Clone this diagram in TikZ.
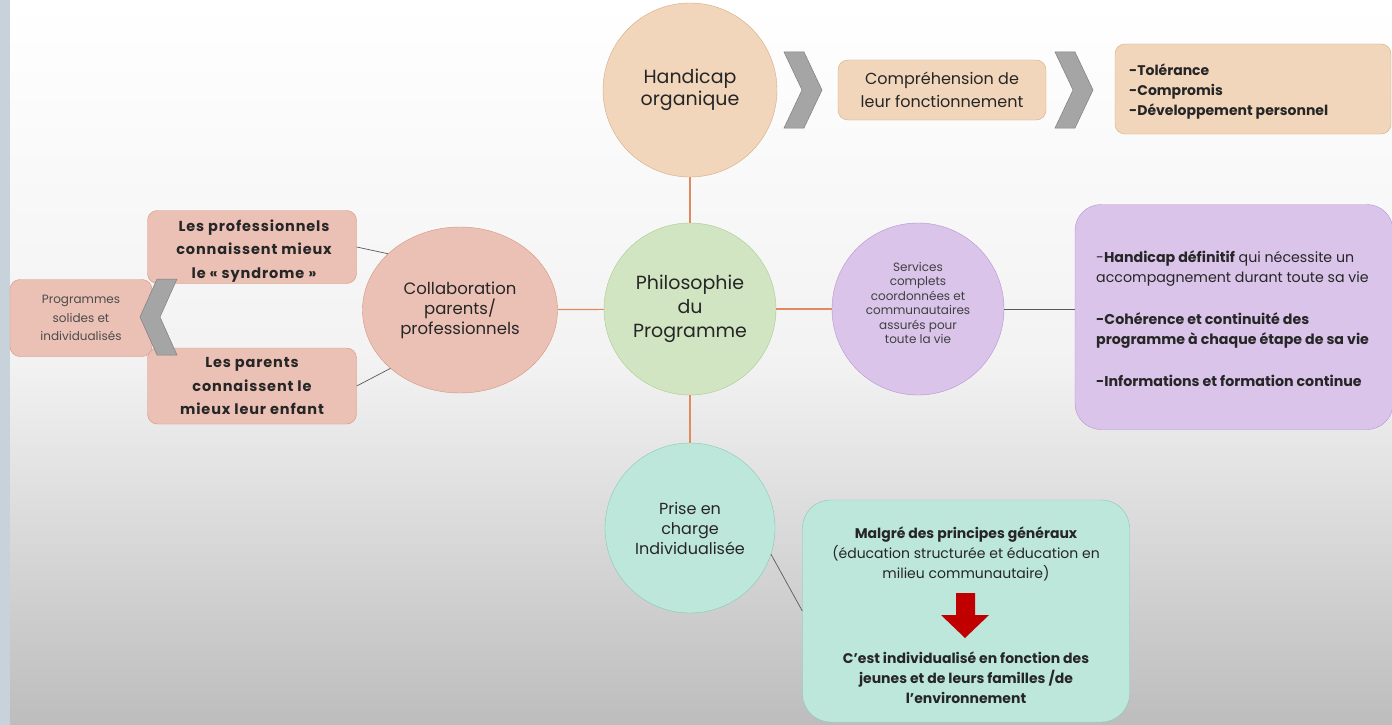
\documentclass[tikz,border=0pt]{standalone}
\usepackage{fontspec}
\setmainfont{Poppins}
\usetikzlibrary{positioning,shapes.geometric}

\definecolor{peach}{HTML}{F1D6BC}
\definecolor{peachline}{HTML}{D8AA80}
\definecolor{salmon}{HTML}{EBC1B5}
\definecolor{salmonline}{HTML}{D5957F}
\definecolor{sage}{HTML}{D1E5C2}
\definecolor{sageline}{HTML}{A8CC92}
\definecolor{lilac}{HTML}{DAC4EA}
\definecolor{lilacline}{HTML}{B693D2}
\definecolor{mint}{HTML}{BEE7DB}
\definecolor{mintline}{HTML}{86C9B5}
\definecolor{linkorange}{HTML}{E08A60}
\definecolor{chev}{HTML}{A5A5A5}
\definecolor{chevline}{HTML}{7F7F7F}
\definecolor{redarrow}{HTML}{C00000}
\definecolor{ink}{HTML}{262626}
\definecolor{strip}{HTML}{C7D2DA}

\newcommand{\fs}[2]{\fontsize{#1}{#2}\selectfont}

\tikzset{
  bubble/.style={circle, draw=#1line, fill=#1, text=ink, align=center, inner sep=0pt},
  card/.style={draw=#1line, fill=#1, rounded corners=10pt, text=ink, align=center, inner sep=0pt},
  link/.style={linkorange, line width=1.2pt},
  thinlink/.style={draw=black!65, line width=0.7pt},
  chevron/.style={fill=chev, draw=chevline, line width=0.5pt}
}

\begin{document}
\begin{tikzpicture}[x=1pt, y=-1pt]
  % fond
  \shade[top color=white, bottom color=black!26, middle color=black!5] (0,0) rectangle (1392,725);
  \useasboundingbox (0,0) rectangle (1392,725);
  \fill[strip] (0,0) rectangle (10,725);

  % Nodos principales
  \node[bubble=sage, minimum size=172pt, font=\fs{19}{24}] (philo) at (690,309) {Philosophie\\du\\Programme};
  \node[bubble=peach, minimum size=174pt, font=\fs{19}{22}] (handicap) at (690,90) {Handicap\\organique};
  \node[ellipse, draw=salmonline, fill=salmon, text=ink, align=center, inner sep=0pt,
        minimum width=195pt, minimum height=166pt, font=\fs{16.5}{20}] (collab) at (460,310) {Collaboration\\parents/\\professionnels};
  \node[bubble=lilac, minimum size=172pt, text=black!75, font=\fs{12}{14.5}] (services) at (918,309)
    {Services\\complets\\coordonnées et\\communautaires\\assurés pour\\toute la vie\\[-2pt]~};
  \node[bubble=mint, minimum size=170pt, font=\fs{16}{20}] (prise) at (690,528) {Prise en\\charge\\Individualisée};

  % Cadres
  \node[card=peach, minimum width=208pt, minimum height=60pt, font=\fs{16}{23}] (compr) at (942,90)
    {Compréhension de\\leur fonctionnement};
  \node[card=peach, minimum width=276pt, minimum height=90pt] (qualites) at (1253,89) {};
  \node[text=ink, align=left, inner sep=0pt, anchor=west, font=\fs{14}{20}\bfseries] (qualitestxt) at (1129,92)
    {-Tolérance\\-Compromis\\-Développement personnel};
  \node[card=lilac, rounded corners=26pt, minimum width=318pt, minimum height=225pt] (besoins) at (1234,317) {};
  \node[text=ink, align=left, anchor=north west, inner sep=0pt, font=\fs{14.2}{20}] (besoinstxt) at (1096,250)
    {-\textbf{Handicap définitif} qui nécessite un\\accompagnement durant toute sa vie\\[22pt]
     \textbf{-Cohérence et continuité des}\\\textbf{programme à chaque étape de sa vie}\\[22pt]
     \textbf{-Informations et formation continue}};
  \node[card=mint, rounded corners=28pt, minimum width=327pt, minimum height=222pt] (indiv) at (966,611) {};
  \node[text=ink, align=center, inner sep=0pt, font=\fs{14}{20}] (principes) at (966,554)
    {\textbf{Malgré des principes généraux}\\(éducation structurée et éducation en\\milieu communautaire)};
  \node[text=ink, align=center, inner sep=0pt, font=\fs{14}{20}\bfseries] (fonction) at (966,678)
    {C'est individualisé en fonction des\\jeunes et de leurs familles /de\\l'environnement};

  \node[card=salmon, minimum width=209pt, minimum height=73pt] (pros) at (252,247) {};
  \node[text=ink, align=center, inner sep=0pt, font=\fs{14.5}{23.5}\bfseries\addfontfeatures{LetterSpace=6}] (prostxt) at (254,251)
    {Les professionnels\\connaissent mieux\\le « syndrome »};
  \node[card=salmon, minimum width=209pt, minimum height=76pt,
        font=\fs{14.5}{23.5}\bfseries\addfontfeatures{LetterSpace=6}] (parents) at (252,386)
    {Les parents\\connaissent le\\mieux leur enfant};
  \node[card=salmon, minimum width=142pt, minimum height=77pt, text=black!70, font=\fs{12}{18.5}] (solides) at (81,318)
    {Programmes\\solides et\\individualisés};

  % Liens
  \draw[link] (handicap) -- (philo);
  \draw[link] (collab) -- (philo);
  \draw[link] (philo) -- (services);
  \draw[link] (philo) -- (prise);
  \draw[thinlink] (pros.east) -- (collab.142);
  \draw[thinlink] (parents.east) -- (collab.220);
  \draw[thinlink] (services.east) -- (services.east -| besoins.west);
  \draw[thinlink] (prise.-18) -- (indiv.west);

  % Chevrons
  \draw[chevron] (784,52) -- (804,52) -- (822,90) -- (804,128) -- (784,128) -- (802,90) -- cycle;
  \draw[chevron] (1055,52) -- (1075,52) -- (1093,90) -- (1075,128) -- (1055,128) -- (1073,90) -- cycle;
  \draw[chevron] (157,279) -- (177,279) -- (160,317) -- (177,355) -- (157,355) -- (140,317) -- cycle;

  % Flecha roja
  \fill[redarrow] (956,593) -- (975,593) -- (975,615) -- (989,615) -- (965,638) -- (941,615) -- (956,615) -- cycle;
\end{tikzpicture}
\end{document}
